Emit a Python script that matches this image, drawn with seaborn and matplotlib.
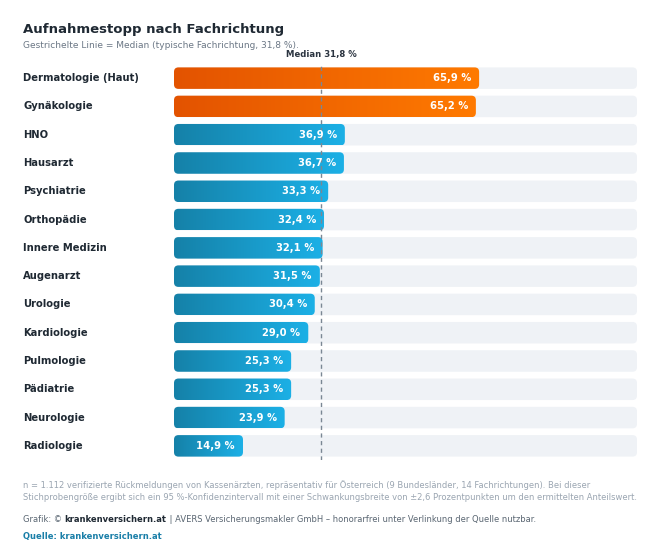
import numpy as np
import pandas as pd
import matplotlib.pyplot as plt
import seaborn as sns
from matplotlib.patches import FancyBboxPatch
from matplotlib.colors import LinearSegmentedColormap
from matplotlib.transforms import blended_transform_factory

fachrichtung = ['Dermatologie (Haut)', 'Gynäkologie', 'HNO', 'Hausarzt', 'Psychiatrie',
                'Orthopädie', 'Innere Medizin', 'Augenarzt', 'Urologie', 'Kardiologie',
                'Pulmologie', 'Pädiatrie', 'Neurologie', 'Radiologie']
anteil = [65.9, 65.2, 36.9, 36.7, 33.3, 32.4, 32.1, 31.5, 30.4, 29.0, 25.3, 25.3, 23.9, 14.9]
hervorgehoben = ['Dermatologie (Haut)', 'Gynäkologie']
median = 31.8
skala_max = 100

df = pd.DataFrame({'fach': fachrichtung, 'anteil': anteil, 'max': skala_max})

sns.set_theme(style="white")
plt.rcParams['font.family'] = ['DejaVu Sans']

fig = plt.figure(figsize=(6.61, 5.6), dpi=100)
W, H = 661, 560
ax = fig.add_axes([174 / W, 1 - 460 / H, (637 - 174) / W, (460 - 64) / H])

# Hintergrundspur + Werte
sns.barplot(data=df, x='max', y='fach', color='#EEF2F7', width=0.76, ax=ax)
n_track = len(ax.patches)
sns.barplot(data=df, x='anteil', y='fach', color='#1BA3D6', width=0.76, ax=ax)

ax.set_xlim(0, skala_max)
ax.set_ylim(len(fachrichtung) - 0.5, -0.5)

px_x = (637 - 174) / skala_max
px_y = (460 - 64) / len(fachrichtung)
aspect = px_x / px_y
radius_px = 4.5

cmap_orange = LinearSegmentedColormap.from_list('o', ['#E35300', '#FF7A00'])
cmap_blau = LinearSegmentedColormap.from_list('b', ['#1581A8', '#1CB0E6'])
grad = np.linspace(0, 1, 256).reshape(1, -1)

patches = list(ax.patches)
for i, p in enumerate(patches):
    x0, y0, w, h = p.get_x(), p.get_y(), p.get_width(), p.get_height()
    p.set_visible(False)
    box = FancyBboxPatch((x0, y0), w, h,
                         boxstyle=f"round,pad=0,rounding_size={radius_px / px_x}",
                         mutation_aspect=aspect, linewidth=0,
                         facecolor=p.get_facecolor() if i < n_track else 'none',
                         zorder=1 if i < n_track else 2)
    ax.add_patch(box)
    if i >= n_track:
        k = i - n_track
        cmap = cmap_orange if fachrichtung[k] in hervorgehoben else cmap_blau
        im = ax.imshow(grad, cmap=cmap, aspect='auto', extent=(x0, x0 + w, y0 + h, y0),
                       zorder=2, interpolation='bilinear')
        im.set_clip_path(box)
        ax.text(x0 + w - 1.7, k, f"{anteil[k]:.1f} %".replace('.', ','),
                ha='right', va='center', color='white', fontsize=7.2, fontweight='bold', zorder=4)

ax.set_xlim(0, skala_max)
ax.set_ylim(len(fachrichtung) - 0.5, -0.5)

ax.axvline(median, color='#7A8794', linestyle=(0, (3, 2.5)), linewidth=1, zorder=3)
ax.text(median, -0.66, "Median 31,8 %", ha='center', va='bottom', fontsize=6.1,
        fontweight='bold', color='#2B3440')

trans = blended_transform_factory(fig.transFigure, ax.transData)
for k, name in enumerate(fachrichtung):
    ax.text(23 / W, k, name, transform=trans, ha='left', va='center', fontsize=7.2,
            fontweight='bold', color='#1F2933')

ax.set_xticks([])
ax.set_yticks([])
ax.set_xlabel('')
ax.set_ylabel('')
for s in ax.spines.values():
    s.set_visible(False)

fig.text(23 / W, 1 - 29 / H, "Aufnahmestopp nach Fachrichtung", fontsize=9.5, fontweight='bold',
         color='#1F2933', ha='left', va='center')
fig.text(23 / W, 1 - 45.5 / H, "Gestrichelte Linie = Median (typische Fachrichtung, 31,8 %).",
         fontsize=6.5, color='#6B7785', ha='left', va='center')

fig.text(23 / W, 1 - 485 / H,
         "n = 1.112 verifizierte Rückmeldungen von Kassenärzten, repräsentativ für Österreich "
         "(9 Bundesländer, 14 Fachrichtungen). Bei dieser",
         fontsize=6.0, color='#9AA5B1', ha='left', va='center')
fig.text(23 / W, 1 - 498 / H,
         "Stichprobengröße ergibt sich ein 95 %-Konfidenzintervall mit einer Schwankungsbreite "
         "von ±2,6 Prozentpunkten um den ermittelten Anteilswert.",
         fontsize=6.0, color='#9AA5B1', ha='left', va='center')

renderer = fig.canvas.get_renderer()
t1 = fig.text(23 / W, 1 - 520 / H, "Grafik: © ", fontsize=6.05, color='#5A6672', ha='left', va='center')
x_next = t1.get_window_extent(renderer).x1 / fig.bbox.width
t2 = fig.text(x_next, 1 - 520 / H, "krankenversichern.at", fontsize=6.05, fontweight='bold',
              color='#1F2933', ha='left', va='center')
x_next = t2.get_window_extent(renderer).x1 / fig.bbox.width
fig.text(x_next, 1 - 520 / H, " | AVERS Versicherungsmakler GmbH – honorarfrei unter Verlinkung der Quelle nutzbar.",
         fontsize=6.05, color='#5A6672', ha='left', va='center')
fig.text(23 / W, 1 - 536 / H, "Quelle: krankenversichern.at", fontsize=6.05, fontweight='bold',
         color='#1A7FA8', ha='left', va='center')

fig.savefig('out.png', dpi=100, facecolor='white')
